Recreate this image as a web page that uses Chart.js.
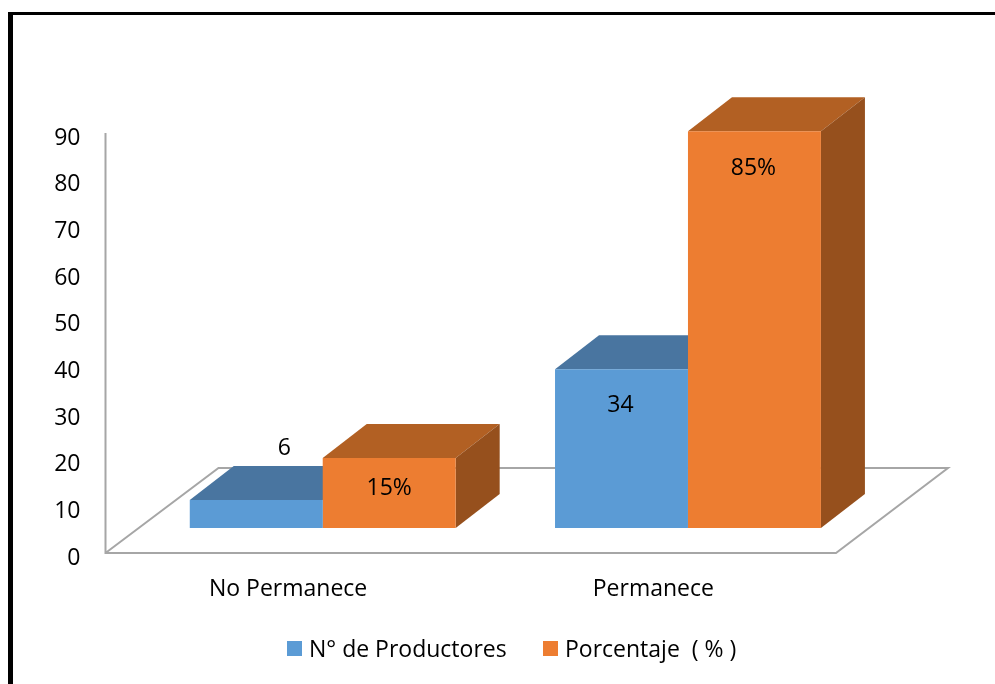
<!DOCTYPE html>
<html>
<head>
<meta charset="utf-8">
<script src="https://cdn.jsdelivr.net/npm/chart.js@4"></script>
<style>
body{margin:0;background:#fff;overflow:hidden;}
#frame{position:absolute;left:8px;top:12px;width:987px;height:672px;box-sizing:border-box;border-left:5px solid #000;border-top:3px solid #000;pointer-events:none;}
canvas{position:absolute;left:0;top:0;}
</style>
</head>
<body>
<canvas id="chart" width="995" height="684"></canvas>
<div id="frame"></div>
<script>
const categories = ["No Permanece", "Permanece"];
const productores = [6, 34];
const porcentaje = [15, 85];
const seriesNames = ["N° de Productores", "Porcentaje  ( % )"];
const suffixes = ["", "%"];
const yTicks = [0, 10, 20, 30, 40, 50, 60, 70, 80, 90];

const fontName = "'Open Sans'";
const fontSize = 23;
const frontColors = ["#5B9BD5", "#ED7D31"];
const topColors = ["#4975A0", "#B26023"];
const sideColors = ["#3E6A94", "#96501D"];

// bars sit part way back on the floor
const floorDepth = {x: 112, y: -85};
const barShift = {x: 34.6, y: -25};
const barDepth = {x: 44, y: -34};

// data label offsets from the bar's centre and top, by dataset then category
const labelNudge = [
  [{x: 28, y: -52}, {x: -1, y: 36}],
  [{x: 0, y: 30}, {x: -1, y: 37}]
];

const legendItems = [
  {box: 287, text: 309},
  {box: 543, text: 565}
];

function poly(ctx, pts, color) {
  ctx.fillStyle = color;
  ctx.beginPath();
  ctx.moveTo(pts[0][0], pts[0][1]);
  pts.slice(1).forEach(p => ctx.lineTo(p[0], p[1]));
  ctx.closePath();
  ctx.fill();
}

const fake3d = {
  id: "fake3d",
  beforeDatasetsDraw(chart) {
    const ctx = chart.ctx;
    const {left, right, top, bottom} = chart.chartArea;

    // axis and floor
    ctx.save();
    ctx.strokeStyle = "#A6A6A6";
    ctx.lineWidth = 2;
    ctx.lineJoin = "miter";
    ctx.beginPath();
    ctx.moveTo(left, top);
    ctx.lineTo(left, bottom);
    ctx.lineTo(right, bottom);
    ctx.lineTo(right + floorDepth.x, bottom + floorDepth.y);
    ctx.lineTo(left + floorDepth.x + 1, bottom + floorDepth.y);
    ctx.lineTo(left, bottom);
    ctx.stroke();
    ctx.restore();

    ctx.save();
    ctx.translate(barShift.x, barShift.y);
    // top and side faces first, the fronts go over them
    [0, 1].forEach(d => {
      chart.getDatasetMeta(d).data.forEach(bar => {
        const l = bar.x - bar.width / 2;
        const r = bar.x + bar.width / 2;
        poly(ctx, [[l, bar.y], [l + barDepth.x, bar.y + barDepth.y], [r + barDepth.x, bar.y + barDepth.y], [r, bar.y]], topColors[d]);
        poly(ctx, [[r, bar.y], [r + barDepth.x, bar.y + barDepth.y], [r + barDepth.x, bar.base + barDepth.y], [r, bar.base]], sideColors[d]);
      });
    });
  },
  afterDatasetsDraw(chart) {
    const ctx = chart.ctx;
    ctx.fillStyle = "#000";
    ctx.font = fontSize + "px " + fontName;
    ctx.textAlign = "center";
    ctx.textBaseline = "middle";
    [0, 1].forEach(d => {
      chart.getDatasetMeta(d).data.forEach((bar, i) => {
        const value = chart.data.datasets[d].data[i];
        ctx.fillText(value + suffixes[d], bar.x + labelNudge[d][i].x, bar.y + labelNudge[d][i].y);
      });
    });
    ctx.restore();
  },
  afterDraw(chart) {
    // legend
    const ctx = chart.ctx;
    ctx.save();
    ctx.font = fontSize + "px " + fontName;
    ctx.textAlign = "left";
    ctx.textBaseline = "middle";
    legendItems.forEach((item, d) => {
      ctx.fillStyle = frontColors[d];
      ctx.fillRect(item.box, 641, 15, 15);
      ctx.fillStyle = "#000";
      ctx.fillText(chart.data.datasets[d].label, item.text, 650);
    });
    ctx.restore();
  }
};

new Chart(document.getElementById("chart"), {
  type: "bar",
  plugins: [fake3d],
  data: {
    labels: categories,
    datasets: [
      {label: seriesNames[0], data: productores, backgroundColor: frontColors[0], clip: false},
      {label: seriesNames[1], data: porcentaje, backgroundColor: frontColors[1], clip: false}
    ]
  },
  options: {
    responsive: false,
    animation: false,
    layout: {padding: {top: 133, left: 0, right: 159, bottom: 71}},
    datasets: {bar: {categoryPercentage: 0.728, barPercentage: 1}},
    plugins: {legend: {display: false}, tooltip: {enabled: false}},
    scales: {
      x: {
        grid: {display: false},
        border: {display: false},
        afterFit(scale) { scale.height = 60; },
        ticks: {color: "#000", font: {family: fontName, size: fontSize}, padding: 15, maxRotation: 0}
      },
      y: {
        min: 0,
        max: 90,
        grid: {display: false},
        border: {display: false},
        afterBuildTicks(scale) { scale.ticks = yTicks.map(v => ({value: v})); },
        afterFit(scale) { scale.width = 105.5; },
        ticks: {color: "#000", font: {family: fontName, size: fontSize}, padding: 17, labelOffset: 5}
      }
    }
  }
});
</script>
</body>
</html>
